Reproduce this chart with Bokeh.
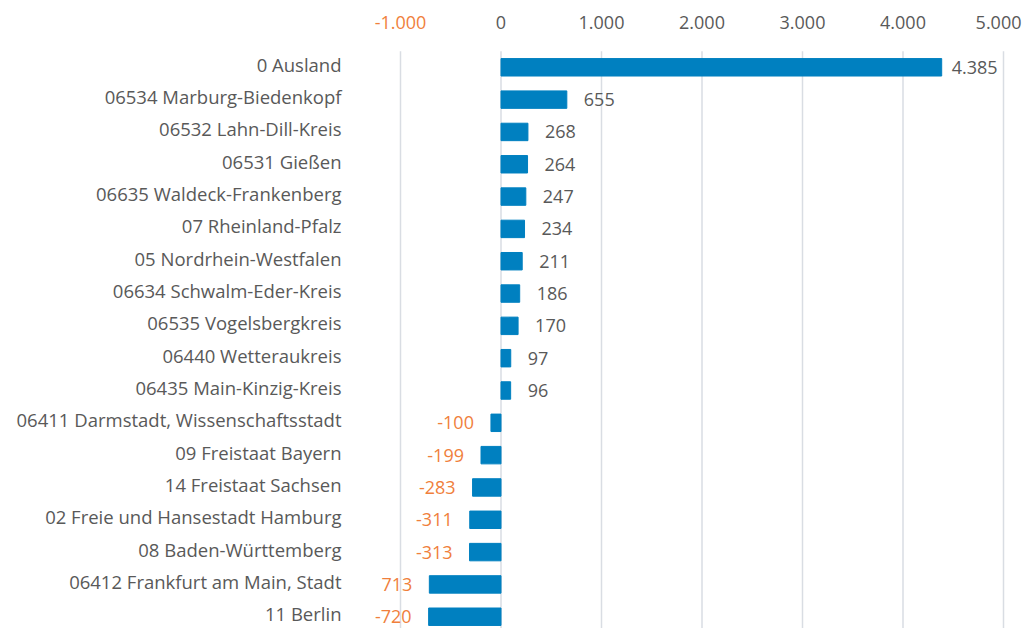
from bokeh.plotting import figure
from bokeh.models import ColumnDataSource, Range1d, FixedTicker, LinearAxis
from bokeh.core.properties import value
from bokeh.embed import file_html
from bokeh.resources import INLINE

categories = [
    "0 Ausland", "06534 Marburg-Biedenkopf", "06532 Lahn-Dill-Kreis",
    "06531 Gießen", "06635 Waldeck-Frankenberg", "07 Rheinland-Pfalz",
    "05 Nordrhein-Westfalen", "06634 Schwalm-Eder-Kreis",
    "06535 Vogelsbergkreis", "06440 Wetteraukreis", "06435 Main-Kinzig-Kreis",
    "06411 Darmstadt, Wissenschaftsstadt", "09 Freistaat Bayern",
    "14 Freistaat Sachsen", "02 Freie und Hansestadt Hamburg",
    "08 Baden-Württemberg", "06412 Frankfurt am Main, Stadt", "11 Berlin",
]
values = [4385, 655, 268, 264, 247, 234, 211, 186, 170, 97, 96,
          -100, -199, -283, -311, -313, -713, -720]
value_labels = ["4.385", "655", "268", "264", "247", "234", "211", "186",
                "170", "97", "96", "-100", "-199", "-283", "-311", "-313",
                "713", "-720"]
x_ticks = [-1000, 0, 1000, 2000, 3000, 4000, 5000]
x_tick_labels = ["-1.000", "0", "1.000", "2.000", "3.000", "4.000", "5.000"]

BLUE = "#0080C0"
ORANGE = "#F07F3C"
GRAY = "#595959"
GRID = "#D9DDE3"
FONT = "Open Sans"
FS_CAT = "18.5px"
FS_NUM = "18px"

W, H = 1024, 628
BAND = 32.32                 # px per category row
PX = 0.1005                  # px per x unit
FRAME_L = 355                # px, frame left edge
ZERO_X = 500.5               # px, where x = 0 lies
FIRST_Y = 66.8               # px, centre of first row
X_START = -(ZERO_X - FRAME_L) / PX
X_END = (W - ZERO_X) / PX
Y_TOP = -FIRST_Y / BAND
Y_BOT = Y_TOP + H / BAND
CAT_LIFT = 3 / BAND          # category texts sit slightly above bar centres

pos = list(range(len(categories)))

p = figure(width=W, height=H, output_backend="svg", toolbar_location=None,
           x_range=Range1d(X_START, X_END), y_range=Range1d(Y_BOT, Y_TOP),
           x_axis_location=None, y_axis_location=None,
           min_border_left=FRAME_L, min_border_right=0, min_border_top=0,
           min_border_bottom=0)
p.outline_line_color = None
p.background_fill_color = "white"
p.border_fill_color = "white"
p.xgrid.visible = False
p.ygrid.visible = False

# left category axis
cat_ticks = [i - CAT_LIFT for i in pos]
yax = LinearAxis(ticker=FixedTicker(ticks=cat_ticks))
yax.major_label_overrides = {t: c for t, c in zip(cat_ticks, categories)}
yax.axis_line_color = None
yax.major_tick_line_color = None
yax.minor_tick_line_color = None
yax.major_tick_out = 0
yax.major_tick_in = 0
yax.major_label_text_font = FONT
yax.major_label_text_font_size = FS_CAT
yax.major_label_text_color = GRAY
yax.major_label_standoff = 14
p.add_layout(yax, "left")

# vertical grid lines at the x ticks
p.segment(x0=x_ticks, x1=x_ticks, y0=-0.5, y1=Y_BOT, line_color=GRID,
          line_width=1.5)

# top tick labels
tick_src = ColumnDataSource(dict(
    x=x_ticks, lab=x_tick_labels,
    col=[ORANGE if t < 0 else GRAY for t in x_ticks],
    align=["right" if t == x_ticks[-1] else "center" for t in x_ticks],
    xoff=[18 if t == x_ticks[-1] else 0 for t in x_ticks],
))
p.text(x="x", y=Y_TOP + 22 / BAND, text="lab", source=tick_src,
       text_align="align", text_baseline="middle", x_offset="xoff",
       text_font=value(FONT), text_font_size=value(FS_NUM), text_color="col")

# bars
vmax = max(values)
src = ColumnDataSource(dict(
    y=pos, v=values, lab=value_labels,
    col=[GRAY if v >= 0 else ORANGE for v in values],
    align=["left" if v >= 0 else "right" for v in values],
    xoff=[(10 if v == vmax else 17) if v >= 0 else -17 for v in values],
))
p.hbar(y="y", left=0, right="v", height=0.54, source=src, color=BLUE)

# value labels
p.text(x="v", y="y", text="lab", source=src, x_offset="xoff", y_offset=0,
       text_align="align", text_baseline="middle",
       text_font=value(FONT), text_font_size=value(FS_NUM), text_color="col")

open("out.html", "w").write(file_html(p, INLINE))
